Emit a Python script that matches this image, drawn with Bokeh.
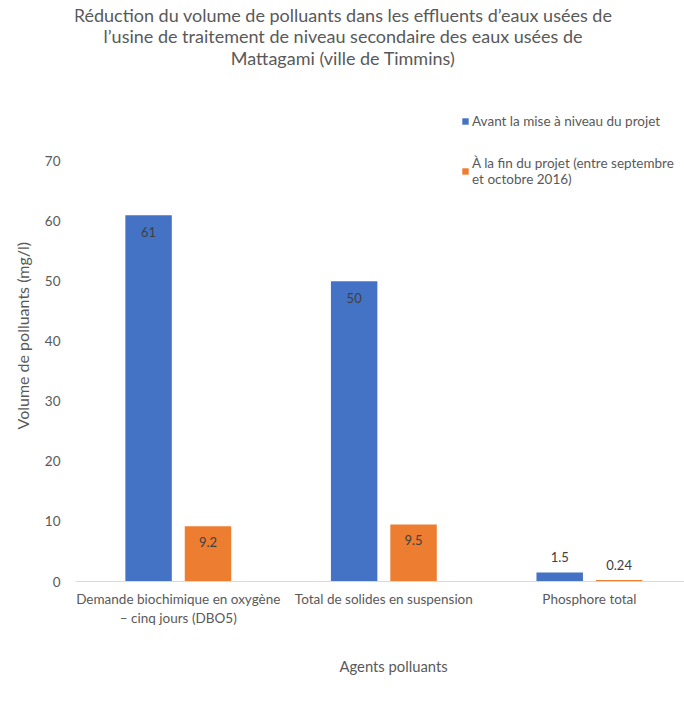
from bokeh.plotting import figure
from bokeh.models import ColumnDataSource, Range1d, FixedTicker, Label, LabelSet, Legend, LegendItem, Title
from bokeh.core.properties import value
from bokeh.embed import file_html
from bokeh.resources import INLINE

# ---- data ----
categories = ["Demande biochimique en oxygène\n– cinq jours (DBO5)",
              "Total de solides en suspension",
              "Phosphore total"]
series_names = ["Avant la mise à niveau du projet",
                "À la fin du projet (entre septembre\net octobre 2016)"]
before = [61, 50, 1.5]
after = [9.2, 9.5, 0.24]
before_labels = ["61", "50", "1.5"]
after_labels = ["9.2", "9.5", "0.24"]
y_ticks = [0, 10, 20, 30, 40, 50, 60, 70]
title_lines = ["Réduction du volume de polluants dans les effluents d’eaux usées de",
               "l’usine de traitement de niveau secondaire des eaux usées de",
               "Mattagami (ville de Timmins)"]
y_title = "Volume de polluants (mg/l)"
x_title = "Agents polluants"

FONT = "Lato"
GREY = "#595959"
BLUE = "#4472C4"
ORANGE = "#ED7D31"

W, H = 684, 701
FL, FR, FT, FB = 74, 684, 0, 582   # frame edges in page pixels
CAT_W = 205.9
X0 = -0.5
X1 = X0 + (FR - FL) / CAT_W
PX_PER_UNIT = (582 - 161) / 70.0
Y1 = (FB - FT) / PX_PER_UNIT


def xd(px):
    return X0 + (px - FL) / CAT_W


def yd(py):
    return (FB - py) / PX_PER_UNIT


p = figure(width=W, height=H, output_backend="svg", toolbar_location=None,
           x_range=Range1d(X0, X1), y_range=Range1d(0, Y1),
           min_border_left=FL, min_border_right=0,
           min_border_top=FT, min_border_bottom=H - FB)
p.outline_line_color = None
p.grid.visible = False
p.background_fill_color = "white"
p.border_fill_color = "white"

xs = list(range(len(categories)))
off = 0.1445
bw = 0.226
src_b = ColumnDataSource(dict(x=[v - off for v in xs], top=before, lab=before_labels,
                              yo=[-17 if v > 5 else 15 for v in before]))
src_a = ColumnDataSource(dict(x=[v + off for v in xs], top=after, lab=after_labels,
                              yo=[-16 if v > 5 else 15 for v in after]))

rb = p.vbar(x="x", top="top", width=bw, source=src_b, fill_color=BLUE, line_color=None)
ra = p.vbar(x="x", top="top", width=bw, source=src_a, fill_color=ORANGE, line_color=None)

for src in (src_b, src_a):
    p.add_layout(LabelSet(x="x", y="top", text="lab", y_offset="yo", source=src,
                          text_align="center", text_baseline="middle",
                          text_font=value(FONT), text_font_size="13px", text_color="#404040"))

# axes
p.xaxis.ticker = FixedTicker(ticks=xs)
p.xaxis.major_label_overrides = {i: c for i, c in enumerate(categories)}
p.xaxis.axis_line_color = "#D9D9D9"
p.xaxis.major_tick_line_color = None
p.xaxis.minor_tick_line_color = None
p.xaxis.major_label_text_font = FONT
p.xaxis.major_label_text_font_size = "13.5px"
p.xaxis.major_label_text_color = GREY
p.xaxis.major_label_standoff = 3

p.yaxis.ticker = FixedTicker(ticks=y_ticks)
p.yaxis.axis_line_color = None
p.yaxis.major_tick_line_color = None
p.yaxis.minor_tick_line_color = None
p.yaxis.major_label_text_font = FONT
p.yaxis.major_label_text_font_size = "13.5px"
p.yaxis.major_label_text_color = GREY
p.yaxis.major_label_standoff = 9

# chart title (inside the tall frame, centred on the page)
for line, cy in zip(title_lines, [15, 36, 58]):
    p.add_layout(Label(x=xd(342), y=yd(cy), text=line, text_align="center",
                       text_baseline="middle", text_font=FONT, text_font_size="18px",
                       text_color=GREY))

# axis titles
p.add_layout(Title(text=y_title, align="left", offset=582 - 430,
                   text_font=FONT, text_font_size="16px", text_color=GREY,
                   text_font_style="normal", standoff=20), "left")
p.add_layout(Title(text=x_title, align="left", offset=338 - FL,
                   text_font=FONT, text_font_size="14.8px", text_color=GREY,
                   text_font_style="normal", standoff=53), "below")

legend = Legend(items=[LegendItem(label=series_names[0], renderers=[rb]),
                       LegendItem(label=series_names[1], renderers=[ra])],
                location=(462 - FL - 2, FB - 188), orientation="vertical",
                glyph_width=8, glyph_height=8, label_standoff=3, spacing=26,
                padding=0, margin=0, border_line_color=None, background_fill_alpha=0,
                label_text_font=FONT, label_text_font_size="13.5px", label_text_color=GREY,
                label_height=16)
p.add_layout(legend)

open("out.html", "w").write(file_html(p, INLINE))
